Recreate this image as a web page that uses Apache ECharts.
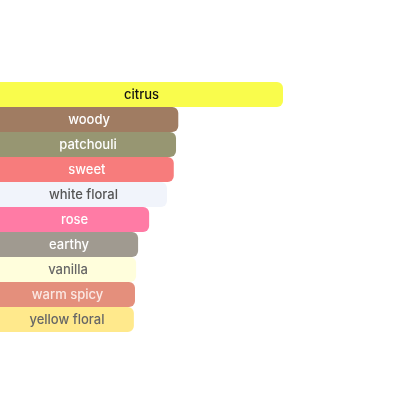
<!DOCTYPE html>
<html>
<head>
<meta charset="utf-8">
<script src="https://cdn.jsdelivr.net/npm/echarts@6/dist/echarts.min.js"></script>
<style>
  html, body { margin: 0; padding: 0; background: #fff; }
  #chart { width: 416px; height: 416px; }
</style>
</head>
<body>
<div id="chart"></div>
<script>
// accords, top to bottom
const accords = ['citrus', 'woody', 'patchouli', 'sweet', 'white floral', 'rose', 'earthy', 'vanilla', 'warm spicy', 'yellow floral']
const strengths = [100, 63, 62.2, 61.4, 59, 52.7, 48.8, 48.1, 47.7, 47.3]
const barColors = ['#f9fc4c', '#a07c62', '#979672', '#f77c7c', '#f1f4fb', '#ff7ba5', '#a09a90', '#fffedc', '#e48f7c', '#ffe98c']
const textColors = ['#111111', '#ffffff', '#ffffff', '#ffffff', '#555555', '#ffffff', '#ffffff', '#666666', '#fbe9e4', '#666666']

const chart = echarts.init(document.getElementById('chart'))

chart.setOption({
  backgroundColor: '#ffffff',
  animation: false,
  grid: { left: 0, right: 0, top: 82, bottom: 84 },
  xAxis: {
    type: 'value',
    min: 0,
    max: 147,
    show: false,
  },
  yAxis: {
    type: 'category',
    data: accords,
    inverse: true,
    show: false,
  },
  series: [
    {
      type: 'bar',
      barWidth: '100%',
      barCategoryGap: 0,
      data: strengths.map((v, i) => ({
        value: v,
        itemStyle: { color: barColors[i], borderRadius: [0, 6, 6, 0] },
        label: { color: textColors[i] },
      })),
      label: {
        show: true,
        position: 'inside',
        offset: [0, 1],
        formatter: (p) => accords[p.dataIndex],
        fontFamily: 'Inter, sans-serif',
        fontWeight: 500,
        fontSize: 13,
      },
    },
  ],
})
</script>
</body>
</html>
